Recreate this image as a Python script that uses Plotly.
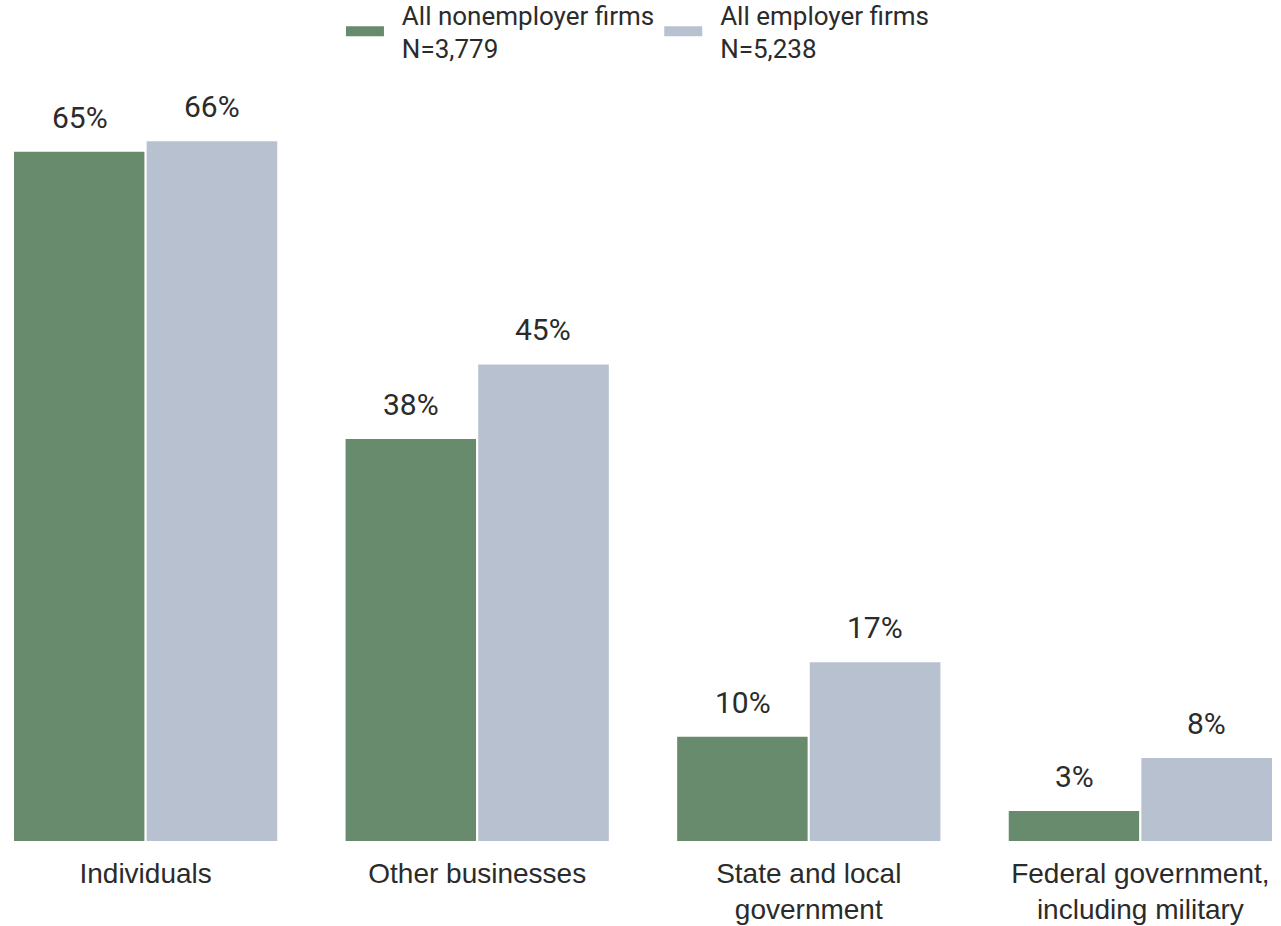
import plotly.graph_objects as go

# Share of firms selling to each customer type
categories = ["Individuals", "Other businesses", "State and local<br>government",
              "Federal government,<br>including military"]
nonemployer_pct = [65, 38, 10, 3]
employer_pct = [66, 45, 17, 8]
series_names = ["All nonemployer firms<br>N=3,779", "All employer firms<br>N=5,238"]

GREEN = "#688B6D"
SLATE = "#B8C1D0"
TEXT = "#2b2b2b"

series = [(series_names[0], nonemployer_pct, GREEN, -66),
          (series_names[1], employer_pct, SLATE, 66)]

PAD = "\u00a0\u00a0"  # breathing room between legend key and label


def legend_label(name):
    return "<br>".join(PAD + part for part in name.split("<br>"))


fig = go.Figure()
for name, vals, color, _ in series:
    fig.add_trace(go.Bar(
        x=categories, y=vals, name=name, legendgroup=name, showlegend=False,
        marker=dict(color=color, line=dict(color="white", width=2)),
        hoverinfo="skip",
    ))

# Wide swatch legend entries (thick line keys)
for name, _, color, _ in series:
    fig.add_trace(go.Scatter(
        x=[None], y=[None], mode="lines", name=legend_label(name),
        legendgroup=name, line=dict(color=color, width=12), hoverinfo="skip",
    ))

# Percentage labels above each bar
for _, vals, _, dx in series:
    for cat, v in zip(categories, vals):
        fig.add_annotation(
            x=cat, y=v, text=f"{v}%", showarrow=False,
            xanchor="center", yanchor="bottom", xshift=dx, yshift=14,
            font=dict(family="Roboto", size=30, color=TEXT),
        )

fig.update_layout(
    width=1281, height=926,
    barmode="group", bargap=0.2, bargroupgap=0,
    plot_bgcolor="white", paper_bgcolor="white",
    margin=dict(l=13, r=8, t=0, b=84, autoexpand=False),
    legend=dict(
        orientation="h", x=0.496, xanchor="center", y=1.0107, yanchor="top",
        font=dict(family="Roboto", size=26, color=TEXT),
        traceorder="normal", itemwidth=38,
        bgcolor="rgba(0,0,0,0)",
    ),
    xaxis=dict(
        showgrid=False, showline=False, zeroline=False, ticks="",
        tickfont=dict(family="Liberation Sans, Arial", size=28, color=TEXT),
        ticklabelstandoff=12, automargin=False,
        range=[-0.4, 3.4],
    ),
    yaxis=dict(visible=False, range=[0, 72.6], domain=[0, 772 / 842],
               automargin=False),
)

fig.write_html("out.html")
